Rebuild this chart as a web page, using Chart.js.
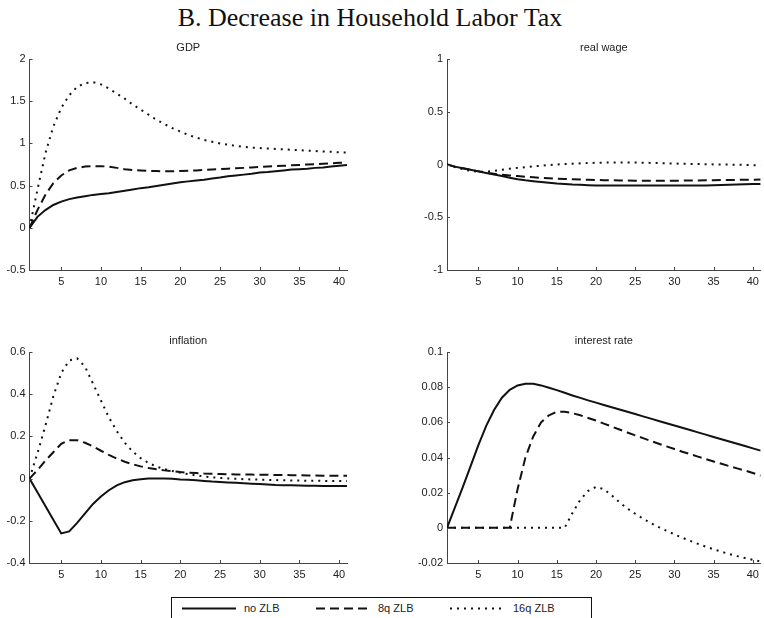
<!DOCTYPE html>
<html>
<head>
<meta charset="utf-8">
<script src="https://cdn.jsdelivr.net/npm/chart.js@4.4.1/dist/chart.umd.min.js"></script>
<style>
  html, body { margin: 0; padding: 0; background: #fff; }
  #page { position: relative; width: 764px; height: 618px; overflow: hidden; font-family: "Liberation Sans", Arial, sans-serif; }
  #page canvas { position: absolute; }
  #title { position: absolute; left: 0; top: 5px; width: 740px; text-align: center; font: 26px/26px "Liberation Serif", "Times New Roman", serif; color: #111; }
  #legend { position: absolute; left: 171px; top: 597px; width: 419px; height: 30px; border: 1.5px solid #111; }
  #legend svg { position: absolute; left: 0; top: 0; }
  #legend span { position: absolute; top: 4px; font-size: 11px; line-height: 13px; color: #222; }
</style>
</head>
<body>
<div id="page">
  <div id="title">B. Decrease in Household Labor Tax</div>
  <canvas id="gdp" width="362" height="262" style="left:0;top:30px"></canvas>
  <canvas id="wage" width="364" height="262" style="left:400px;top:30px"></canvas>
  <canvas id="infl" width="362" height="264" style="left:0;top:322px"></canvas>
  <canvas id="rate" width="364" height="264" style="left:400px;top:322px"></canvas>
  <div id="legend">
    <svg width="419" height="30">
      <line x1="10" y1="10.5" x2="64" y2="10.5" stroke="#111" stroke-width="2"></line>
      <line x1="144" y1="10.5" x2="198" y2="10.5" stroke="#111" stroke-width="2" stroke-dasharray="9 5"></line>
      <line x1="278" y1="10.5" x2="331" y2="10.5" stroke="#111" stroke-width="2" stroke-dasharray="2 5"></line>
    </svg>
    <span style="left:72px">no ZLB</span>
    <span style="left:206px">8q ZLB</span>
    <span style="left:341px">16q ZLB</span>
  </div>
</div>
<script>
const periods = [1, 2, 3, 4, 5, 6, 7, 8, 9, 10, 11, 12, 13, 14, 15, 16, 17, 18, 19, 20,
  21, 22, 23, 24, 25, 26, 27, 28, 29, 30, 31, 32, 33, 34, 35, 36, 37, 38, 39, 40, 41];
const xTicks = [5, 10, 15, 20, 25, 30, 35, 40];
const seriesNames = ["no ZLB", "8q ZLB", "16q ZLB"];

// GDP
const gdpNoZlb = [0, 0.13, 0.21, 0.27, 0.31, 0.34, 0.36, 0.375, 0.39, 0.40,
  0.41, 0.425, 0.44, 0.455, 0.47, 0.48, 0.495, 0.51, 0.525, 0.54,
  0.55, 0.56, 0.57, 0.585, 0.595, 0.61, 0.62, 0.63, 0.64, 0.655,
  0.66, 0.67, 0.68, 0.69, 0.695, 0.70, 0.71, 0.715, 0.725, 0.735, 0.745];
const gdp8q = [0, 0.21, 0.39, 0.53, 0.62, 0.68, 0.71, 0.725, 0.73, 0.73,
  0.725, 0.71, 0.695, 0.685, 0.68, 0.675, 0.672, 0.67, 0.67, 0.672,
  0.675, 0.68, 0.685, 0.69, 0.695, 0.70, 0.705, 0.71, 0.715, 0.72,
  0.725, 0.73, 0.735, 0.74, 0.745, 0.75, 0.755, 0.76, 0.765, 0.77, 0.775];
const gdp16q = [0, 0.45, 0.88, 1.2, 1.42, 1.57, 1.67, 1.715, 1.725, 1.70,
  1.65, 1.59, 1.53, 1.46, 1.40, 1.34, 1.28, 1.23, 1.18, 1.14,
  1.10, 1.07, 1.04, 1.02, 1.00, 0.985, 0.97, 0.96, 0.95, 0.945,
  0.94, 0.935, 0.93, 0.925, 0.92, 0.915, 0.91, 0.905, 0.90, 0.895, 0.89];
const gdpTicks = [-0.5, 0, 0.5, 1, 1.5, 2];

// real wage
const wageNoZlb = [0, -0.02, -0.035, -0.05, -0.065, -0.08, -0.095, -0.11, -0.125, -0.14,
  -0.15, -0.158, -0.166, -0.173, -0.18, -0.185, -0.19, -0.193, -0.196, -0.198,
  -0.2, -0.2, -0.2, -0.2, -0.2, -0.2, -0.2, -0.2, -0.2, -0.2,
  -0.2, -0.2, -0.2, -0.198, -0.196, -0.194, -0.192, -0.19, -0.188, -0.186, -0.184];
const wage8q = [0, -0.02, -0.035, -0.05, -0.065, -0.078, -0.088, -0.097, -0.104, -0.11,
  -0.116, -0.121, -0.126, -0.13, -0.134, -0.137, -0.14, -0.143, -0.145, -0.147,
  -0.149, -0.15, -0.151, -0.152, -0.153, -0.154, -0.154, -0.154, -0.154, -0.154,
  -0.153, -0.152, -0.151, -0.15, -0.149, -0.148, -0.147, -0.146, -0.145, -0.144, -0.143];
const wage16q = [0, -0.025, -0.045, -0.06, -0.07, -0.068, -0.06, -0.05, -0.04, -0.032,
  -0.025, -0.018, -0.011, -0.005, 0, 0.004, 0.008, 0.011, 0.014, 0.016,
  0.018, 0.019, 0.019, 0.019, 0.018, 0.017, 0.015, 0.013, 0.011, 0.009,
  0.007, 0.006, 0.004, 0.003, 0.001, 0, -0.001, -0.002, -0.004, -0.006, -0.008];
const wageTicks = [-1, -0.5, 0, 0.5, 1];

// inflation
const inflNoZlb = [0, -0.065, -0.13, -0.195, -0.26, -0.25, -0.21, -0.165, -0.12, -0.085,
  -0.055, -0.032, -0.017, -0.008, -0.003, 0, 0.001, 0.001, -0.001, -0.004,
  -0.006, -0.008, -0.011, -0.014, -0.016, -0.018, -0.02, -0.022, -0.024, -0.026,
  -0.028, -0.03, -0.031, -0.032, -0.033, -0.034, -0.034, -0.035, -0.035, -0.035, -0.035];
const infl8q = [0, 0.04, 0.085, 0.125, 0.165, 0.182, 0.182, 0.17, 0.152, 0.132,
  0.112, 0.095, 0.08, 0.068, 0.058, 0.05, 0.044, 0.039, 0.035, 0.031,
  0.028, 0.026, 0.024, 0.023, 0.022, 0.021, 0.02, 0.019, 0.019, 0.018,
  0.018, 0.017, 0.017, 0.016, 0.016, 0.015, 0.015, 0.014, 0.014, 0.013, 0.013];
const infl16q = [0, 0.12, 0.25, 0.39, 0.50, 0.56, 0.57, 0.53, 0.45, 0.37,
  0.29, 0.225, 0.17, 0.128, 0.097, 0.074, 0.057, 0.045, 0.036, 0.028,
  0.021, 0.015, 0.01, 0.006, 0.003, 0.001, -0.001, -0.003, -0.004, -0.005,
  -0.006, -0.007, -0.008, -0.009, -0.009, -0.01, -0.01, -0.011, -0.011, -0.011, -0.012];
const inflTicks = [-0.4, -0.2, 0, 0.2, 0.4, 0.6];

// interest rate
const rateNoZlb = [0, 0.0115, 0.023, 0.035, 0.047, 0.058, 0.067, 0.074, 0.0785, 0.081,
  0.082, 0.082, 0.081, 0.0797, 0.0783, 0.0768, 0.0753, 0.0739, 0.0725, 0.0712,
  0.0699, 0.0686, 0.0673, 0.066, 0.0647, 0.0634, 0.0621, 0.0608, 0.0595, 0.0582,
  0.0569, 0.0556, 0.0543, 0.053, 0.0517, 0.0504, 0.0491, 0.0478, 0.0465, 0.0452, 0.0439];
const rate8q = [0, 0, 0, 0, 0, 0, 0, 0, 0, 0.022,
  0.04, 0.052, 0.06, 0.064, 0.066, 0.066, 0.0652, 0.064, 0.0625, 0.061,
  0.0593, 0.0576, 0.0559, 0.0542, 0.0526, 0.051, 0.0494, 0.0478, 0.0463, 0.0448,
  0.0433, 0.0419, 0.0405, 0.0391, 0.0377, 0.0364, 0.0351, 0.0338, 0.0326, 0.0312, 0.0297];
const rate16q = [0, 0, 0, 0, 0, 0, 0, 0, 0, 0,
  0, 0, 0, 0, 0, 0, 0.0085, 0.016, 0.021, 0.0233,
  0.022, 0.0185, 0.0145, 0.011, 0.008, 0.0052, 0.0027, 0.0004, -0.0017, -0.0037,
  -0.0056, -0.0074, -0.0091, -0.0107, -0.0122, -0.0136, -0.0149, -0.0161, -0.0172, -0.0182, -0.0191];
const rateTicks = [-0.02, 0, 0.02, 0.04, 0.06, 0.08, 0.1];

const lineColor = "#111";
const axisColor = "#444";
const textColor = "#222";
const font = { family: '"Liberation Sans", Arial, sans-serif', size: 11 };

// MATLAB style: ticks pointing inward, title centred on the axes
const matlabAxes = {
  id: "matlabAxes",
  afterDraw(chart, args, opts) {
    const { ctx, chartArea: a, scales: { x, y } } = chart;
    ctx.save();
    ctx.strokeStyle = axisColor;
    ctx.lineWidth = 1;
    ctx.beginPath();
    x.ticks.forEach((t) => {
      const px = Math.round(x.getPixelForValue(t.value)) + 0.5;
      ctx.moveTo(px, a.bottom);
      ctx.lineTo(px, a.bottom - 3);
    });
    y.ticks.forEach((t) => {
      const py = Math.round(y.getPixelForValue(t.value)) + 0.5;
      ctx.moveTo(a.left, py);
      ctx.lineTo(a.left + 3, py);
    });
    ctx.stroke();
    ctx.fillStyle = textColor;
    ctx.font = font.size + "px " + font.family;
    ctx.textAlign = "center";
    ctx.textBaseline = "middle";
    ctx.fillText(opts.text, (a.left + a.right) / 2, a.top - 11.5);
    ctx.restore();
  },
};

function makePanel(id, title, values, yTicks, yWidth, pad, xHeight) {
  const styles = [
    { borderDash: [] },
    { borderDash: [9, 5] },
    { borderDash: [2, 5] },
  ];
  new Chart(document.getElementById(id), {
    type: "line",
    data: {
      datasets: values.map((vals, i) => ({
        label: seriesNames[i],
        data: periods.map((t, k) => ({ x: t, y: vals[k] })),
        borderColor: lineColor,
        borderWidth: 2,
        borderDash: styles[i].borderDash,
        borderCapStyle: "butt",
        pointRadius: 0,
        tension: 0,
        fill: false,
      })),
    },
    options: {
      responsive: false,
      animation: false,
      layout: { padding: pad },
      plugins: {
        legend: { display: false },
        tooltip: { enabled: false },
        matlabAxes: { text: title },
      },
      scales: {
        x: {
          type: "linear",
          min: 1,
          max: 41,
          afterBuildTicks: (s) => { s.ticks = xTicks.map((v) => ({ value: v })); },
          afterFit: (s) => { s.height = xHeight; },
          grid: { display: false, drawTicks: false, tickLength: 0 },
          border: { display: true, color: axisColor, width: 1 },
          ticks: { autoSkip: false, maxRotation: 0, padding: 5, color: textColor, font },
        },
        y: {
          type: "linear",
          min: yTicks[0],
          max: yTicks[yTicks.length - 1],
          afterBuildTicks: (s) => { s.ticks = yTicks.map((v) => ({ value: v })); },
          afterFit: (s) => { s.width = yWidth; },
          grid: { display: false, drawTicks: false, tickLength: 0 },
          border: { display: true, color: axisColor, width: 1 },
          ticks: {
            padding: 4,
            color: textColor,
            font,
            callback: (v) => String(+Number(v).toFixed(4)),
          },
        },
      },
    },
    plugins: [matlabAxes],
  });
}

makePanel("gdp", "GDP", [gdpNoZlb, gdp8q, gdp16q], gdpTicks, 29.5, { top: 29, right: 15, bottom: 0, left: 0 }, 22);
makePanel("wage", "real wage", [wageNoZlb, wage8q, wage16q], wageTicks, 47, { top: 29, right: 2, bottom: 0, left: 0 }, 22);
makePanel("infl", "inflation", [inflNoZlb, infl8q, infl16q], inflTicks, 29.5, { top: 30, right: 15, bottom: 0, left: 0 }, 23);
makePanel("rate", "interest rate", [rateNoZlb, rate8q, rate16q], rateTicks, 47, { top: 30, right: 2, bottom: 0, left: 0 }, 23);
</script>
</body>
</html>
